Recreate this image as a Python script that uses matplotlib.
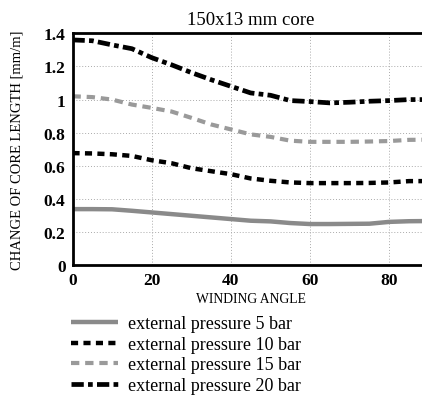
import numpy as np
import matplotlib.pyplot as plt

plt.rcParams['font.family'] = 'Liberation Serif'

# winding angle [deg] and change of core length [mm/m] for each pressure
angle = [0, 5, 10, 15, 20, 25, 30, 35, 40, 45, 50, 55, 60, 65, 70, 75, 80, 85, 90]
p5 = [0.339, 0.339, 0.338, 0.329, 0.319, 0.309, 0.299, 0.289, 0.279, 0.269, 0.265,
      0.255, 0.249, 0.249, 0.250, 0.251, 0.262, 0.266, 0.267]
p10 = [0.677, 0.675, 0.670, 0.660, 0.634, 0.616, 0.586, 0.568, 0.550, 0.524, 0.510,
       0.500, 0.496, 0.496, 0.496, 0.497, 0.500, 0.508, 0.508]
p15 = [1.02, 1.015, 1.0, 0.97, 0.95, 0.928, 0.89, 0.85, 0.82, 0.79, 0.775,
       0.752, 0.745, 0.745, 0.745, 0.747, 0.75, 0.757, 0.758]
p20 = [1.36, 1.355, 1.33, 1.307, 1.253, 1.21, 1.163, 1.12, 1.08, 1.04, 1.026,
       0.994, 0.988, 0.98, 0.984, 0.99, 0.994, 1.0, 1.0]
labels = ['external pressure 5 bar', 'external pressure 10 bar',
          'external pressure 15 bar', 'external pressure 20 bar']

fig = plt.figure(figsize=(4.22, 4.02), dpi=100)
# axes run past the right edge of the figure, so the 90 end is cut off
ax = fig.add_axes([72.5 / 422, 1 - 266.3 / 402, 90 * 3.96 / 422, 232 / 402])

l1, = ax.plot(angle, p5, color='#8a8a8a', lw=3.2, solid_capstyle='butt')
l2, = ax.plot(angle, p10, color='black', lw=3.2, dashes=(1.6, 1.2))
l3, = ax.plot(angle, p15, color='#9a9a9a', lw=3.0, dashes=(2.0, 1.4))
l4, = ax.plot(angle, p20, color='black', lw=3.4, dashes=(2.6, 0.9, 1.0, 0.9))

ax.set_xlim(0, 90)
ax.set_ylim(0, 1.4)
ax.set_xticks([0, 20, 40, 60, 80])
ax.set_yticks([0, 0.2, 0.4, 0.6, 0.8, 1.0, 1.2, 1.4])
ax.set_yticklabels(['0', '0.2', '0.4', '0.6', '0.8', '1', '1.2', '1.4'])
ax.tick_params(length=0, labelsize=12.5, pad=5)
for t in ax.get_xticklabels() + ax.get_yticklabels():
    t.set_fontweight('bold')
ax.grid(True, color='#aaaaaa', lw=0.7, ls=(0, (1, 2)))
for s in ax.spines.values():
    s.set_linewidth(2)
ax.spines['right'].set_visible(False)

ax.set_title('150x13 mm core', fontsize=13.5, pad=7)
ax.set_xlabel('WINDING ANGLE', fontsize=9.8, labelpad=3)
fig.text(17 / 422, 1 - 150 / 402, 'CHANGE OF CORE LENGTH [mm/m]', fontsize=10.5,
         rotation=90, ha='center', va='center')

fig.legend([l1, l2, l3, l4], labels, loc='upper left',
           bbox_to_anchor=(55 / 422, 1 - 300 / 402), frameon=False,
           fontsize=13, handlelength=2.6, handletextpad=0.55, labelspacing=0.2)

fig.savefig('out.png', dpi=100)
